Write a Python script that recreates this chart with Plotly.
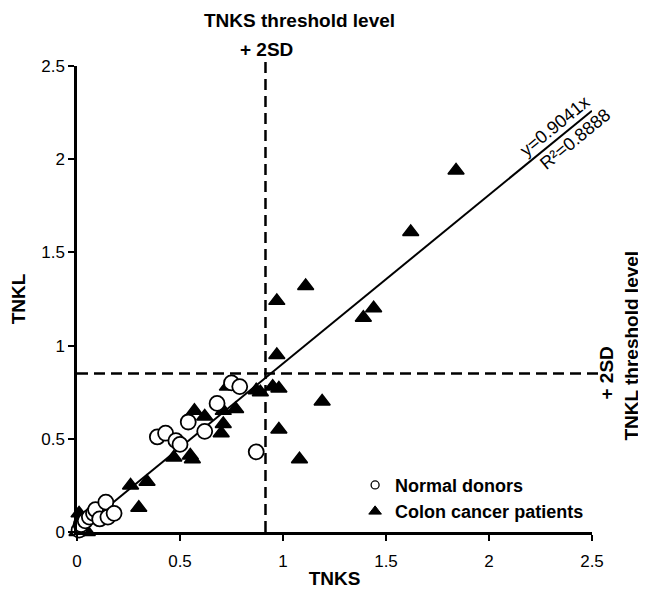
import plotly.graph_objects as go

# ---- data ----
normal_tnks = [0.01, 0.02, 0.04, 0.06, 0.08, 0.09, 0.11, 0.15, 0.14, 0.18,
               0.39, 0.43, 0.48, 0.50, 0.54, 0.62, 0.68, 0.75, 0.79, 0.87]
normal_tnkl = [0.01, 0.04, 0.06, 0.08, 0.10, 0.12, 0.07, 0.08, 0.16, 0.10,
               0.51, 0.53, 0.49, 0.47, 0.59, 0.54, 0.69, 0.80, 0.78, 0.43]

cancer_tnks = [0.00, 0.05, 0.01, 0.26, 0.30, 0.34, 0.47, 0.55, 0.56, 0.57,
               0.62, 0.70, 0.71, 0.71, 0.73, 0.77, 0.87, 0.89, 0.95, 0.98,
               0.97, 0.98, 0.97, 1.08, 1.11, 1.19, 1.39, 1.44, 1.62, 1.84]
cancer_tnkl = [0.00, 0.00, 0.10, 0.25, 0.13, 0.27, 0.40, 0.41, 0.39, 0.65,
               0.62, 0.53, 0.58, 0.65, 0.78, 0.66, 0.76, 0.75, 0.78, 0.77,
               0.95, 0.55, 1.24, 0.39, 1.32, 0.70, 1.15, 1.20, 1.61, 1.94]

slope = 0.9041
r_squared = 0.8888
fit_x = [0.0, 2.5]
fit_y = [slope * v for v in fit_x]

tnks_threshold = 0.915
tnkl_threshold = 0.85

x_ticks = [0, 0.5, 1, 1.5, 2, 2.5]
x_ticktext = ["0", "0.5", "1", "1.5", "2", "2.5"]
y_ticks = [0, 0.5, 1, 1.5, 2, 2.5]
y_ticktext = ["0", "0.5", "1", "1.5", "2", "2.5"]

FONT = "Liberation Sans, Arial, Helvetica, sans-serif"

fig = go.Figure()

fig.add_trace(go.Scatter(x=fit_x, y=fit_y, mode="lines",
                         line=dict(color="black", width=2),
                         showlegend=False, hoverinfo="skip"))

fig.add_trace(go.Scatter(x=cancer_tnks, y=cancer_tnkl, mode="markers",
                         marker=dict(symbol="triangle-up", size=14, color="black",
                                     line=dict(color="black", width=1.5)),
                         cliponaxis=False, showlegend=False))

fig.add_trace(go.Scatter(x=normal_tnks, y=normal_tnkl, mode="markers",
                         marker=dict(symbol="circle", size=15, color="white",
                                     line=dict(color="black", width=1.8)),
                         cliponaxis=False, showlegend=False))

# legend entries
fig.add_trace(go.Scatter(x=[None], y=[None], mode="markers", name="<b>Normal donors</b>",
                         marker=dict(symbol="circle", size=8, color="white",
                                     line=dict(color="black", width=1.3))))
fig.add_trace(go.Scatter(x=[None], y=[None], mode="markers", name="<b>Colon cancer patients</b>",
                         marker=dict(symbol="triangle-up", size=11, color="black",
                                     line=dict(color="black", width=1))))

# threshold lines
fig.add_shape(type="line", xref="x", yref="paper", x0=tnks_threshold, x1=tnks_threshold,
              y0=0, y1=1.01, line=dict(color="black", width=2.5, dash="11px,6px"))
fig.add_shape(type="line", xref="paper", yref="y", x0=0, x1=1.012,
              y0=tnkl_threshold, y1=tnkl_threshold,
              line=dict(color="black", width=2.5, dash="11px,6px"))

annos = [
    dict(text="<b>TNKS threshold level</b>", xref="x", yref="paper", x=tnks_threshold, y=1,
         xanchor="center", yanchor="middle", xshift=34, yshift=46, showarrow=False,
         font=dict(size=19, family=FONT, color="black")),
    dict(text="<b>+ 2SD</b>", xref="x", yref="paper", x=tnks_threshold, y=1,
         xanchor="center", yanchor="middle", xshift=1, yshift=17, showarrow=False,
         font=dict(size=19, family=FONT, color="black")),
    dict(text="<b>+ 2SD</b>", xref="paper", yref="y", x=1, y=tnkl_threshold,
         xanchor="center", yanchor="middle", xshift=15, yshift=0, textangle=-90,
         showarrow=False, font=dict(size=19, family=FONT, color="black")),
    dict(text="<b>TNKL threshold level</b>", xref="paper", yref="y", x=1, y=tnkl_threshold,
         xanchor="center", yanchor="middle", xshift=40, yshift=28, textangle=-90,
         showarrow=False, font=dict(size=19, family=FONT, color="black")),
    dict(text="y=0.9041x", xref="x", yref="y", x=2.32, y=slope * 2.32,
         xanchor="center", yanchor="middle", yshift=15, textangle=-39.3,
         showarrow=False, font=dict(size=18, family=FONT, color="black")),
    dict(text="R²=0.8888", xref="x", yref="y", x=2.42, y=slope * 2.42,
         xanchor="center", yanchor="middle", yshift=-15, textangle=-39.3,
         showarrow=False, font=dict(size=18, family=FONT, color="black")),
]

# page body has an 8px margin, so the figure is sized to fit the 646x590 window
fig.update_layout(
    width=638, height=582,
    margin=dict(l=69, r=54, t=58, b=58),
    paper_bgcolor="white", plot_bgcolor="white",
    font=dict(family=FONT, color="black", size=17),
    annotations=annos,
    showlegend=True,
    legend=dict(x=0.54, y=0.14, xanchor="left", yanchor="top",
                bgcolor="rgba(0,0,0,0)", font=dict(size=18, family=FONT, color="black"),
                itemwidth=30, tracegroupgap=0),
    xaxis=dict(range=[0, 2.5], tickvals=x_ticks, ticktext=x_ticktext,
               showgrid=False, zeroline=False, showline=True, linecolor="black",
               linewidth=2.5, ticks="outside", ticklen=6, tickwidth=2, tickcolor="black",
               ticklabelstandoff=6, automargin=False,
               title=dict(text="<b>TNKS</b>", font=dict(size=19), standoff=2),
               tickfont=dict(size=17)),
    yaxis=dict(range=[0, 2.5], tickvals=y_ticks, ticktext=y_ticktext,
               showgrid=False, zeroline=False, showline=True, linecolor="black",
               linewidth=2.5, ticks="outside", ticklen=6, tickwidth=2, tickcolor="black",
               automargin=False,
               title=dict(text="<b>TNKL</b>", font=dict(size=19), standoff=12),
               tickfont=dict(size=17)),
)

fig.write_html("out.html")
